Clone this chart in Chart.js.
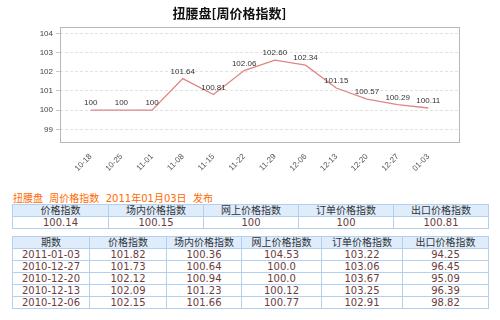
<!DOCTYPE html>
<html>
<head>
<meta charset="utf-8">
<script src="https://cdn.jsdelivr.net/npm/chart.js@4/dist/chart.umd.min.js"></script>
<style>
    body { margin: 0; width: 500px; height: 320px; background: #fff; position: relative; overflow: hidden;
           font-family: "DejaVu Sans", "Noto Sans CJK SC", sans-serif; }
    #chart-box { position: absolute; left: 0; top: 0; width: 500px; height: 176px; }
    .pub { position: absolute; left: 13px; top: 190px; font-size: 10px; color: #ff6a00; white-space: pre; }
    table { position: absolute; left: 12px; border-collapse: collapse; table-layout: fixed; font-size: 10px; }
    td { border: 1px solid #b3d0ee; text-align: center; height: 11px; line-height: 11px; padding: 0; white-space: nowrap; }
    tr.head td { background: #deecfb; color: #333; }
    tr.val td { color: #6e3a3a; background: #fff; }
    #summary { top: 204px; width: 476px; }
    #history { top: 236px; width: 476px; }
</style>
</head>
<body>
<div id="chart-box"><canvas id="price-line-chart"></canvas></div>
<div class="pub">扭腰盘  周价格指数  2011年01月03日  发布</div>
<table id="summary"></table>
<table id="history"></table>

<script>
// ─── Chart data ──────────────────────────────────────
const weekLabels = ['10-18', '10-25', '11-01', '11-08', '11-15', '11-22',
                    '11-29', '12-06', '12-13', '12-20', '12-27', '01-03'];
const priceIndex = [100, 100, 100, 101.64, 100.81, 102.06,
                    102.60, 102.34, 101.15, 100.57, 100.29, 100.11];
const yTicks = [99, 100, 101, 102, 103, 104];

// ─── Table data ──────────────────────────────────────
const summaryHeads = ['价格指数', '场内价格指数', '网上价格指数', '订单价格指数', '出口价格指数'];
const summaryValues = ['100.14', '100.15', '100', '100', '100.81'];
const summaryWidths = [96, 95, 95, 95, 95];

const historyHeads = ['期数', '价格指数', '场内价格指数', '网上价格指数', '订单价格指数', '出口价格指数'];
const historyDates = ['2011-01-03', '2010-12-27', '2010-12-20', '2010-12-13', '2010-12-06'];
const historyPrice = ['101.82', '101.73', '102.12', '102.09', '102.15'];
const historyMarket = ['100.36', '100.64', '100.94', '101.23', '101.66'];
const historyOnline = ['104.53', '100.0', '100.0', '100.12', '100.77'];
const historyOrder = ['103.22', '103.06', '103.67', '103.25', '102.91'];
const historyExport = ['94.25', '96.45', '95.09', '96.39', '98.82'];
const historyWidths = [77, 77, 75, 80, 81, 86];

function fmtValue(v) {
    return Number.isInteger(v) ? String(v) : v.toFixed(2);
}

// outer box round the plot area
const frameBox = {
    id: 'frameBox',
    afterDraw(chart) {
        const { ctx, chartArea: a } = chart;
        ctx.save();
        ctx.strokeStyle = '#b8b8b8';
        ctx.lineWidth = 1;
        ctx.strokeRect(Math.round(a.left) + 0.5, Math.round(a.top) + 0.5,
                       Math.round(a.right - a.left), Math.round(a.bottom - a.top));
        ctx.restore();
    }
};

// value text above each point
const pointValues = {
    id: 'pointValues',
    afterDatasetsDraw(chart) {
        const { ctx } = chart;
        const meta = chart.getDatasetMeta(0);
        ctx.save();
        ctx.font = '8px "Liberation Sans", Arial, sans-serif';
        ctx.fillStyle = '#333';
        ctx.textAlign = 'center';
        ctx.textBaseline = 'bottom';
        meta.data.forEach((pt, i) => {
            ctx.fillText(fmtValue(priceIndex[i]), pt.x, pt.y - 3);
        });
        ctx.restore();
    }
};

function renderChart() {
    const ctx = document.getElementById('price-line-chart');
    new Chart(ctx, {
        type: 'line',
        data: {
            datasets: [{
                data: priceIndex.map((v, i) => ({ x: i, y: v })),
                borderColor: '#e08585',
                borderWidth: 1.3,
                pointRadius: 0,
                tension: 0,
                fill: false
            }]
        },
        options: {
            responsive: true,
            maintainAspectRatio: false,
            animation: false,
            layout: { padding: { left: 0, right: 41, top: 0, bottom: 0 } },
            plugins: {
                legend: { display: false },
                tooltip: { enabled: false },
                title: {
                    display: true,
                    text: '扭腰盘[周价格指数]',
                    color: '#111',
                    font: { family: '"Noto Sans CJK SC"', size: 13, weight: 'bold' },
                    padding: { top: 5, bottom: 6 }
                }
            },
            scales: {
                x: {
                    type: 'linear',
                    min: -1,
                    max: 12,
                    afterBuildTicks: (scale) => {
                        scale.ticks = weekLabels.map((_, i) => ({ value: i }));
                    },
                    afterFit: (scale) => { scale.height = 34; },
                    ticks: {
                        autoSkip: false,
                        minRotation: 45,
                        maxRotation: 45,
                        color: '#555',
                        font: { family: '"Liberation Sans", Arial', size: 8 },
                        padding: 2,
                        callback: (v) => weekLabels[v] || ''
                    },
                    grid: { display: false },
                    border: { display: false }
                },
                y: {
                    min: 98.34,
                    max: 104.35,
                    afterBuildTicks: (scale) => {
                        scale.ticks = yTicks.map(v => ({ value: v }));
                    },
                    afterFit: (scale) => { scale.width = 60; },
                    ticks: {
                        color: '#444',
                        font: { family: '"Liberation Sans", Arial', size: 8 },
                        padding: 3
                    },
                    grid: {
                        color: '#e2e2e2',
                        tickLength: 4,
                        tickColor: '#c8c8c8',
                        tickBorderDash: []
                    },
                    border: { display: false, dash: [3, 2] }
                }
            }
        },
        plugins: [frameBox, pointValues]
    });
}

function cellRow(cls, cells, widths) {
    return `<tr class="${cls}">` + cells.map((c, i) =>
        widths ? `<td style="width:${widths[i] - 1}px">${c}</td>` : `<td>${c}</td>`).join('') + '</tr>';
}

function renderTables() {
    document.getElementById('summary').innerHTML =
        cellRow('head', summaryHeads, summaryWidths) + cellRow('val', summaryValues);

    const rows = historyDates.map((d, i) => cellRow('val',
        [d, historyPrice[i], historyMarket[i], historyOnline[i], historyOrder[i], historyExport[i]]));
    document.getElementById('history').innerHTML =
        cellRow('head', historyHeads, historyWidths) + rows.join('');
}

renderChart();
renderTables();
</script>
</body>
</html>
